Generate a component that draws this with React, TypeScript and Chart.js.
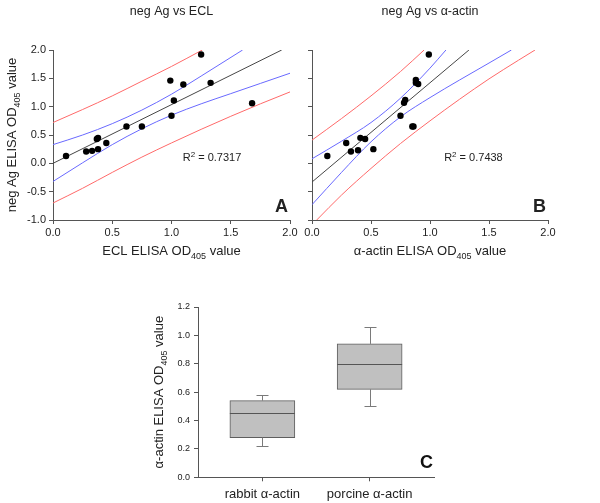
import React, { useEffect, useRef } from 'react';
import { Chart, registerables } from 'chart.js';

Chart.register(...registerables);

const FONT = '"Liberation Sans", Arial, Helvetica, sans-serif';
const TEXT = '#222222';
const AXIS = '#555555';
const RED = 'rgb(255,105,105)';
const BLUE = 'rgb(105,105,255)';
const FIT = 'rgb(70,70,70)';

// ---------- Panel A: neg Ag vs ECL ----------
const eclX = [0.11, 0.28, 0.33, 0.38, 0.37, 0.38, 0.45, 0.62, 0.75, 0.99, 1.10, 1.25, 1.33, 1.02, 1.00, 1.68];
const negAgA = [0.13, 0.21, 0.22, 0.25, 0.43, 0.45, 0.36, 0.65, 0.65, 1.46, 1.39, 1.92, 1.42, 1.11, 0.84, 1.06];
const fitAX = [0, 1.93];
const fitAY = [0.0, 2.0];
const confUpAX = [0, 0.25, 0.5, 0.75, 1.0, 1.25, 1.6];
const confUpAY = [0.33, 0.50, 0.70, 0.94, 1.22, 1.54, 2.0];
const confLoAX = [0, 0.25, 0.5, 0.75, 1.0, 1.25, 1.5, 1.75, 2.0];
const confLoAY = [-0.32, 0.01, 0.33, 0.61, 0.85, 1.05, 1.23, 1.41, 1.59];
const predUpAX = [0, 0.25, 0.5, 0.75, 1.0, 1.26];
const predUpAY = [0.72, 0.95, 1.19, 1.45, 1.71, 2.0];
const predLoAX = [0, 0.25, 0.5, 0.75, 1.0, 1.25, 1.5, 1.75, 2.0];
const predLoAY = [-0.70, -0.44, -0.16, 0.11, 0.36, 0.60, 0.83, 1.05, 1.26];

// ---------- Panel B: neg Ag vs alpha-actin ----------
const actinX = [0.13, 0.29, 0.33, 0.39, 0.41, 0.45, 0.52, 0.75, 0.78, 0.79, 0.85, 0.86, 0.88, 0.88, 0.90, 0.99];
const negAgB = [0.13, 0.36, 0.21, 0.23, 0.45, 0.43, 0.25, 0.84, 1.07, 1.12, 0.65, 0.65, 1.47, 1.42, 1.40, 1.92];
const fitBX = [0, 1.33];
const fitBY = [-0.33, 2.0];
const confUpBX = [0, 0.25, 0.5, 0.75, 1.0, 1.135];
const confUpBY = [0.08, 0.39, 0.72, 1.15, 1.68, 2.0];
const confLoBX = [0, 0.25, 0.5, 0.75, 1.0, 1.25, 1.5, 1.69];
const confLoBY = [-0.73, -0.16, 0.38, 0.82, 1.16, 1.47, 1.77, 2.0];
const predUpBX = [0, 0.25, 0.5, 0.75, 0.95];
const predUpBY = [0.41, 0.79, 1.19, 1.62, 2.0];
const predLoBX = [0.04, 0.25, 0.5, 0.75, 1.0, 1.25, 1.5, 1.75, 1.89];
const predLoBY = [-1.0, -0.56, -0.09, 0.35, 0.75, 1.13, 1.49, 1.82, 2.0];

const scatterXTicks = [0, 0.5, 1.0, 1.5, 2.0];
const scatterYTicks = [-1.0, -0.5, 0.0, 0.5, 1.0, 1.5, 2.0];

// ---------- Panel C: box plot ----------
const boxCategories = ['rabbit \u03b1-actin', 'porcine \u03b1-actin'];
const boxMin = [0.22, 0.50];
const boxQ1 = [0.28, 0.62];
const boxMedian = [0.45, 0.80];
const boxQ3 = [0.54, 0.94];
const boxMax = [0.58, 1.06];
const boxYTicks = [0.0, 0.2, 0.4, 0.6, 0.8, 1.0, 1.2];

type Kind = 'n' | 'sub' | 'sup';
type Part = [string, Kind];

function drawRich(ctx: CanvasRenderingContext2D, parts: Part[], x: number, baseline: number, size: number, align: 'left' | 'center' | 'right', bold = false) {
  const fontFor = (k: Kind) => `${bold ? 'bold ' : ''}${k === 'n' ? size : Math.round(size * 0.72)}px ${FONT}`;
  let total = 0;
  for (const [t, k] of parts) {
    ctx.font = fontFor(k);
    total += ctx.measureText(t).width;
  }
  let cx = align === 'center' ? x - total / 2 : align === 'right' ? x - total : x;
  ctx.textAlign = 'left';
  ctx.textBaseline = 'alphabetic';
  for (const [t, k] of parts) {
    ctx.font = fontFor(k);
    const dy = k === 'sub' ? size * 0.28 : k === 'sup' ? -size * 0.38 : 0;
    ctx.fillText(t, cx, baseline + dy);
    cx += ctx.measureText(t).width;
  }
}

const zip = (xs: number[], ys: number[]) => xs.map((x, i) => ({ x, y: ys[i] }));

function lineDs(xs: number[], ys: number[], color: string) {
  return {
    data: zip(xs, ys),
    showLine: true,
    borderColor: color,
    borderWidth: 1,
    pointRadius: 0,
    fill: false,
    cubicInterpolationMode: 'monotone' as const,
  };
}

interface ScatterSpec {
  xs: number[];
  ys: number[];
  fit: [number[], number[]];
  confUp: [number[], number[]];
  confLo: [number[], number[]];
  predUp: [number[], number[]];
  predLo: [number[], number[]];
  title: string;
  xTitle: Part[];
  yTitle: Part[] | null;
  r2: string;
  r2At: [number, number];
  letter: string;
  showYLabels: boolean;
  padRight: number;
  yAxisWidth: number;
}

function scatterConfig(s: ScatterSpec): any {
  const annot = {
    id: 'annot',
    afterDraw(chart: any) {
      const { ctx, chartArea: ca, scales } = chart;
      ctx.save();
      ctx.fillStyle = TEXT;
      const cx = (ca.left + ca.right) / 2;
      drawRich(ctx, [[s.title, 'n']], cx, 15, 12.5, 'center');
      drawRich(ctx, s.xTitle, cx, 255, 13, 'center');
      if (s.yTitle) {
        ctx.save();
        ctx.translate(16, (ca.top + ca.bottom) / 2);
        ctx.rotate(-Math.PI / 2);
        drawRich(ctx, s.yTitle, 0, 0, 13, 'center');
        ctx.restore();
      }
      drawRich(ctx, [['R', 'n'], ['2', 'sup'], [' = ' + s.r2, 'n']],
        scales.x.getPixelForValue(s.r2At[0]), scales.y.getPixelForValue(s.r2At[1]), 11, 'left');
      drawRich(ctx, [[s.letter, 'n']], ca.right - 2, ca.bottom - 8.5, 18, 'right', true);
      ctx.restore();
    },
  };
  return {
    type: 'scatter',
    data: {
      datasets: [
        { data: zip(s.xs, s.ys), pointRadius: 3.2, pointBackgroundColor: '#000', pointBorderWidth: 0, showLine: false },
        lineDs(s.fit[0], s.fit[1], FIT),
        lineDs(s.confUp[0], s.confUp[1], BLUE),
        lineDs(s.confLo[0], s.confLo[1], BLUE),
        lineDs(s.predUp[0], s.predUp[1], RED),
        lineDs(s.predLo[0], s.predLo[1], RED),
      ],
    },
    options: {
      responsive: false,
      animation: false,
      devicePixelRatio: 1,
      events: [],
      layout: { padding: { left: 0, top: 50, right: s.padRight, bottom: 0 } },
      plugins: { legend: { display: false }, tooltip: { enabled: false }, title: { display: false } },
      scales: {
        x: {
          type: 'linear',
          min: 0,
          max: 2,
          afterBuildTicks: (sc: any) => { sc.ticks = scatterXTicks.map((v) => ({ value: v })); },
          ticks: { callback: (v: any) => Number(v).toFixed(1), font: { size: 11, family: FONT }, color: TEXT, padding: 2, maxRotation: 0, autoSkip: false },
          grid: { drawOnChartArea: false, drawTicks: true, tickLength: 4, color: AXIS },
          border: { display: true, color: AXIS, width: 1 },
          afterFit: (sc: any) => { sc.height = 45; },
        },
        y: {
          type: 'linear',
          min: -1,
          max: 2,
          afterBuildTicks: (sc: any) => { sc.ticks = scatterYTicks.map((v) => ({ value: v })); },
          ticks: {
            callback: (v: any) => (s.showYLabels ? Number(v).toFixed(1) : ''),
            font: { size: 11, family: FONT }, color: TEXT, padding: 3, autoSkip: false,
          },
          grid: { drawOnChartArea: false, drawTicks: true, tickLength: 4, color: AXIS },
          border: { display: true, color: AXIS, width: 1 },
          afterFit: (sc: any) => { sc.width = s.yAxisWidth; },
        },
      },
    },
    plugins: [annot],
  };
}

function boxConfig(): any {
  const boxWidth = 65;
  const capHalf = 6;
  const boxPlugin = {
    id: 'boxExtras',
    afterDatasetsDraw(chart: any) {
      const { ctx, scales: { x, y } } = chart;
      ctx.save();
      ctx.lineWidth = 1;
      const r = (v: number) => Math.round(v) + 0.5;
      boxCategories.forEach((_, i) => {
        const px = x.getPixelForValue(i + 1);
        // whiskers
        ctx.strokeStyle = '#7a7a7a';
        ctx.beginPath();
        ctx.moveTo(r(px), y.getPixelForValue(boxQ3[i]));
        ctx.lineTo(r(px), r(y.getPixelForValue(boxMax[i])));
        ctx.moveTo(r(px - capHalf), r(y.getPixelForValue(boxMax[i])));
        ctx.lineTo(r(px + capHalf), r(y.getPixelForValue(boxMax[i])));
        ctx.moveTo(r(px), y.getPixelForValue(boxQ1[i]));
        ctx.lineTo(r(px), r(y.getPixelForValue(boxMin[i])));
        ctx.moveTo(r(px - capHalf), r(y.getPixelForValue(boxMin[i])));
        ctx.lineTo(r(px + capHalf), r(y.getPixelForValue(boxMin[i])));
        ctx.stroke();
        // median
        ctx.strokeStyle = '#555555';
        ctx.beginPath();
        ctx.moveTo(px - boxWidth / 2, r(y.getPixelForValue(boxMedian[i])));
        ctx.lineTo(px + boxWidth / 2, r(y.getPixelForValue(boxMedian[i])));
        ctx.stroke();
      });
      ctx.restore();
    },
    afterDraw(chart: any) {
      const { ctx, chartArea: ca } = chart;
      ctx.save();
      ctx.fillStyle = TEXT;
      ctx.translate(23, (ca.top + ca.bottom) / 2);
      ctx.rotate(-Math.PI / 2);
      drawRich(ctx, [['\u03b1-actin ELISA OD', 'n'], ['405', 'sub'], [' value', 'n']], 0, 0, 13, 'center');
      ctx.restore();
      ctx.save();
      ctx.fillStyle = '#111';
      drawRich(ctx, [['C', 'n']], ca.right - 1, ca.bottom - 9.3, 18, 'right', true);
      ctx.restore();
    },
  };
  return {
    type: 'bar',
    data: {
      datasets: [
        {
          data: boxCategories.map((_, i) => ({ x: i + 1, y: [boxQ1[i], boxQ3[i]] })),
          backgroundColor: '#c0c0c0',
          borderColor: '#5e5e5e',
          borderWidth: 1,
          borderSkipped: false,
          barThickness: boxWidth,
          grouped: false,
        },
      ],
    },
    options: {
      responsive: false,
      animation: false,
      devicePixelRatio: 1,
      events: [],
      layout: { padding: { left: 0, top: 17, right: 26, bottom: 0 } },
      plugins: { legend: { display: false }, tooltip: { enabled: false } },
      scales: {
        x: {
          type: 'linear',
          min: 0.4,
          max: 2.6,
          offset: false,
          afterBuildTicks: (sc: any) => { sc.ticks = boxCategories.map((_, i) => ({ value: i + 1 })); },
          ticks: {
            callback: (v: any) => boxCategories[Math.round(Number(v)) - 1] ?? '',
            font: { size: 13, family: FONT }, color: TEXT, padding: 5, maxRotation: 0, autoSkip: false,
          },
          grid: { drawOnChartArea: false, drawTicks: true, tickLength: 4, color: AXIS, offset: false },
          border: { display: true, color: AXIS, width: 1 },
          afterFit: (sc: any) => { sc.height = 25.7; },
        },
        y: {
          type: 'linear',
          min: 0,
          max: 1.2,
          afterBuildTicks: (sc: any) => { sc.ticks = boxYTicks.map((v) => ({ value: v })); },
          ticks: { callback: (v: any) => Number(v).toFixed(1), font: { size: 9, family: FONT }, color: TEXT, padding: 4, autoSkip: false },
          grid: { drawOnChartArea: false, drawTicks: true, tickLength: 4, color: AXIS },
          border: { display: true, color: AXIS, width: 1 },
          afterFit: (sc: any) => { sc.width = 58; },
        },
      },
    },
    plugins: [boxPlugin],
  };
}

function ChartCanvas({ left, top, width, height, make }: { left: number; top: number; width: number; height: number; make: () => any }) {
  const ref = useRef<HTMLCanvasElement>(null);
  useEffect(() => {
    const chart = new Chart(ref.current as HTMLCanvasElement, make());
    return () => chart.destroy();
  }, []);
  return (
    <canvas
      ref={ref}
      width={width}
      height={height}
      style={{ position: 'absolute', left, top, width, height }}
    />
  );
}

const specA: ScatterSpec = {
  xs: eclX,
  ys: negAgA,
  fit: [fitAX, fitAY],
  confUp: [confUpAX, confUpAY],
  confLo: [confLoAX, confLoAY],
  predUp: [predUpAX, predUpAY],
  predLo: [predLoAX, predLoAY],
  title: 'neg Ag vs ECL',
  xTitle: [['ECL ELISA OD', 'n'], ['405', 'sub'], [' value', 'n']],
  yTitle: [['neg Ag ELISA OD', 'n'], ['405', 'sub'], [' value', 'n']],
  r2: '0.7317',
  r2At: [1.095, 0.045],
  letter: 'A',
  showYLabels: true,
  padRight: 10,
  yAxisWidth: 53,
};

const specB: ScatterSpec = {
  xs: actinX,
  ys: negAgB,
  fit: [fitBX, fitBY],
  confUp: [confUpBX, confUpBY],
  confLo: [confLoBX, confLoBY],
  predUp: [predUpBX, predUpBY],
  predLo: [predLoBX, predLoBY],
  title: 'neg Ag vs \u03b1-actin',
  xTitle: [['\u03b1-actin ELISA OD', 'n'], ['405', 'sub'], [' value', 'n']],
  yTitle: null,
  r2: '0.7438',
  r2At: [1.12, 0.045],
  letter: 'B',
  showYLabels: false,
  padRight: 52,
  yAxisWidth: 12,
};

export default function App() {
  return (
    <div style={{ position: 'absolute', left: 0, top: 0, width: 600, height: 503, background: '#fff', overflow: 'hidden' }}>
      <ChartCanvas left={0} top={0} width={300} height={265} make={() => scatterConfig(specA)} />
      <ChartCanvas left={300} top={0} width={300} height={265} make={() => scatterConfig(specB)} />
      <ChartCanvas left={140} top={290} width={320} height={213} make={boxConfig} />
    </div>
  );
}
